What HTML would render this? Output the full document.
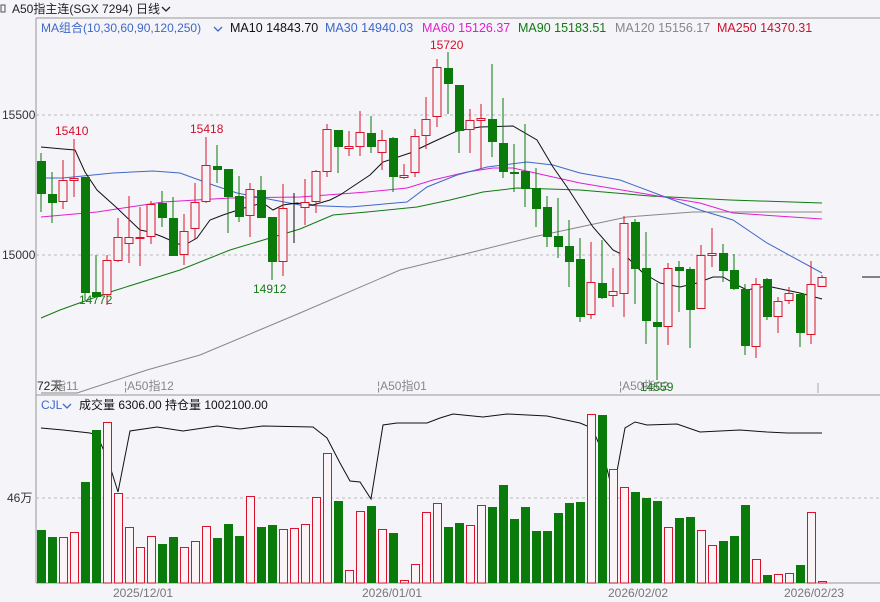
<!DOCTYPE html>
<html><head><meta charset="utf-8">
<style>
html,body{margin:0;padding:0;background:#f4f4f9;}
svg{display:block;font-family:"Liberation Sans","Noto Sans CJK SC",sans-serif;}
</style></head>
<body>
<svg id="c" width="880" height="602" viewBox="0 0 880 602" xmlns="http://www.w3.org/2000/svg">
<rect x="0" y="0" width="880" height="602" fill="#f4f4f9"/>
<!-- header -->
<rect x="1" y="5" width="4" height="7" fill="none" stroke="#555" stroke-width="1"/>
<text x="12" y="13" font-size="12" fill="#222">A50指主连(SGX 7294)</text>
<text x="136" y="13" font-size="12" fill="#222">日线</text>
<path d="M162 7 l4 4 l4 -4" fill="none" stroke="#222" stroke-width="1.3"/>
<line x1="36" y1="18" x2="880" y2="18" stroke="#999" stroke-width="1"/>
<line x1="36" y1="18" x2="36" y2="583" stroke="#999" stroke-width="1"/>
<text x="41" y="32" font-size="12" fill="#3f68c8">MA组合(10,30,60,90,120,250)</text>
<path d="M214 27 l4 4 l4 -4" fill="none" stroke="#3f68c8" stroke-width="1.3"/>
<text x="230" y="32" font-size="12.5" fill="#111">MA10 14843.70</text>
<text x="325" y="32" font-size="12.5" fill="#3f68c8">MA30 14940.03</text>
<text x="422" y="32" font-size="12.5" fill="#e020d0">MA60 15126.37</text>
<text x="518" y="32" font-size="12.5" fill="#107a10">MA90 15183.51</text>
<text x="615" y="32" font-size="12.5" fill="#888">MA120 15156.17</text>
<text x="717" y="32" font-size="12.5" fill="#d0102a">MA250 14370.31</text>
<!-- grid -->
<line x1="36" y1="115" x2="880" y2="115" stroke="#bbb" stroke-dasharray="3,3"/>
<line x1="36" y1="255" x2="880" y2="255" stroke="#bbb" stroke-dasharray="3,3"/>
<text x="2" y="119" font-size="12" fill="#333">15500</text>
<text x="2" y="259" font-size="12" fill="#333">15000</text>
<line x1="36" y1="498" x2="880" y2="498" stroke="#bbb" stroke-dasharray="3,3"/>
<text x="7" y="502" font-size="12" fill="#333">46万</text>
<line x1="36" y1="395" x2="880" y2="395" stroke="#999"/>
<line x1="36" y1="583" x2="880" y2="583" stroke="#999"/>
<g id="lines"></g>
<g id="candles"></g>
<g id="vol"></g>
<!-- labels -->
<text x="55" y="135" font-size="12" fill="#d0102a">15410</text>
<text x="190" y="133" font-size="12" fill="#d0102a">15418</text>
<text x="430" y="49" font-size="12" fill="#d0102a">15720</text>
<text x="253" y="293" font-size="12" fill="#1a7a1a">14912</text>
<text x="79" y="304" font-size="12" fill="#1a7a1a">14772</text>
<text x="37" y="390" font-size="12" fill="#222">72天</text>
<text x="54" y="390" font-size="12" fill="#888">指11</text>
<text x="124" y="390" font-size="12" fill="#888">¦A50指12</text>
<text x="377" y="390" font-size="12" fill="#888">¦A50指01</text>
<text x="619" y="390" font-size="12" fill="#888">¦A50指02</text>
<text x="640" y="391" font-size="12" fill="#1a7a1a">14559</text>
<line x1="818" y1="383" x2="818" y2="393" stroke="#aaa"/>
<line x1="862" y1="277" x2="880" y2="277" stroke="#111"/>
<text x="41" y="409" font-size="12" fill="#3f68c8">CJL</text>
<path d="M63 404 l4 4 l4 -4" fill="none" stroke="#3f68c8" stroke-width="1.3"/>
<text x="79" y="409" font-size="12" fill="#111">成交量 6306.00  持仓量 1002100.00</text>
<text x="113" y="597" font-size="12" fill="#777">2025/12/01</text>
<text x="362" y="597" font-size="12" fill="#777">2026/01/01</text>
<text x="608" y="597" font-size="12" fill="#777">2026/02/02</text>
<text x="784" y="597" font-size="12" fill="#777">2026/02/23</text>
</svg>
<script>
var NS="http://www.w3.org/2000/svg";
function el(p,t,a){var e=document.createElementNS(NS,t);for(var k in a)e.setAttribute(k,a[k]);p.appendChild(e);return e;}
var C=[[161,194,153,212,'g'],[194,203,172,223,'g'],[180,202,160,209,'r'],[178,181,139,197,'r'],[177,293,177,300,'g'],[292,297,255,296,'g'],[260,295,255,305,'r'],[237,261,218,262,'r'],[237,244,196,263,'r'],[237,238,207,266,'r'],[204,237,201,244,'r'],[203,218,191,227,'g'],[218,256,197,256,'g'],[231,255,214,265,'r'],[202,229,183,239,'r'],[165,202,137,203,'r'],[166,170,145,183,'g'],[169,197,169,233,'g'],[196,217,176,222,'g'],[189,216,183,237,'r'],[190,218,176,218,'g'],[217,262,217,280,'g'],[208,262,184,276,'r'],[203,204,193,243,'k'],[202,208,179,225,'r'],[171,202,170,213,'r'],[129,172,124,177,'r'],[130,147,130,173,'g'],[146,149,131,156,'r'],[132,147,111,156,'r'],[133,147,116,153,'g'],[140,153,130,170,'r'],[138,177,137,192,'g'],[175,178,164,179,'r'],[136,173,129,177,'r'],[119,136,97,149,'r'],[67,117,59,127,'r'],[68,84,52,114,'g'],[85,131,85,153,'g'],[120,130,109,153,'r'],[118,121,104,169,'r'],[119,142,64,157,'g'],[143,172,98,178,'g'],[172,174,144,192,'g'],[171,189,124,207,'g'],[188,209,168,227,'g'],[207,237,196,247,'g'],[236,247,198,258,'g'],[246,262,220,287,'g'],[259,317,238,322,'g'],[282,315,242,319,'r'],[283,298,240,299,'g'],[291,296,268,307,'r'],[223,294,216,317,'r'],[222,269,219,304,'g'],[268,321,232,344,'g'],[322,327,283,380,'g'],[268,327,263,345,'r'],[267,271,261,312,'g'],[269,310,267,348,'g'],[255,309,245,309,'r'],[253,256,228,267,'r'],[253,271,244,282,'g'],[270,289,254,290,'g'],[289,346,284,355,'g'],[284,347,278,358,'r'],[279,317,278,320,'g'],[301,317,297,333,'r'],[293,301,287,304,'r'],[294,333,293,347,'g'],[284,335,261,344,'r'],[277,287,275,287,'r']];
var V=[530,537,537,532,482,430,422,493,527,547,536,544,537,547,541,526,538,524,536,496,527,525,529,528,524,497,453,501,570,511,506,529,533,580,564,512,503,527,523,525,505,507,485,519,507,531,531,513,503,502,414,415,469,487,492,498,501,527,518,517,530,545,541,536,505,559,575,574,573,565,512,581];
var cg=document.getElementById('candles'),vg=document.getElementById('vol'),lg=document.getElementById('lines');
var RED='#d8142c',GRN='#0a7a0a';
C.forEach(function(c,i){var x=41+i*11.0;var col=c[4]=='g'?GRN:(c[4]=='k'?'#111':RED);
 el(cg,'line',{x1:x,y1:c[2],x2:x,y2:c[3],stroke:col,'stroke-width':1});
 var h=Math.max(c[1]-c[0],1);
 if(c[4]=='g')el(cg,'rect',{x:x-4,y:c[0],width:9,height:h,fill:GRN});
 else if(c[4]=='k')el(cg,'rect',{x:x-4,y:c[0],width:9,height:1,fill:'#111'});
 else el(cg,'rect',{x:x-4,y:c[0]+0.5,width:8,height:Math.max(h-1,1),fill:'#f4f4f9',stroke:RED,'stroke-width':1});
 var vt=V[i];var vh=583-vt;
 if(c[4]=='g')el(vg,'rect',{x:x-4,y:vt,width:9,height:vh,fill:GRN});
 else el(vg,'rect',{x:x-3.5,y:vt+0.5,width:8,height:vh-0.5,fill:'#fbf4f6',stroke:RED,'stroke-width':1});
});
function pl(pts,col,w){el(lg,'polyline',{points:pts,fill:'none',stroke:col,'stroke-width':w||1});}
pl("41,393 77,393 147,370 200,355 300,313 400,270 473,252 533,237 580,227 627,217 693,212 822,212","#888");
pl("41,318 60,310 107,293 180,270 230,250 300,229 333,215 367,212 417,207 450,200 483,192 517,188 580,190 650,196 730,200 822,203","#107a10");
pl("41,217 97,212 130,207 163,202 230,198 300,197 367,192 407,188 433,180 467,172 493,168 513,168 553,177 580,183 640,193 700,203 733,213 822,219","#e020d0");
pl("41,178 63,178 113,173 153,171 180,173 213,185 237,193 263,198 300,205 350,207 407,202 427,187 457,175 487,167 527,162 553,165 580,173 620,180 660,195 700,210 733,220 767,243 822,273","#3f68c8");
pl("41,147 63,149 75,150 85,172 97,190 117,208 140,230 150,232 163,237 183,246 197,238 210,220 223,215 247,207 263,203 273,210 283,205 297,203 313,205 330,200 340,195 370,175 383,162 410,153 433,142 457,131 480,127 513,126 537,140 553,167 567,187 580,207 593,227 613,250 627,257 643,273 660,283 680,287 697,283 713,277 723,277 737,285 747,290 767,286 800,293 822,299","#111");
pl("41,428 63,430 90,433 97,435 108,460 118,492 130,431 157,427 183,431 217,426 240,429 263,426 313,427 327,438 340,463 350,481 360,482 371,499 383,425 397,423 427,423 440,418 453,414 483,417 507,414 547,416 580,423 592,428 603,453 613,493 625,428 635,422 647,425 677,424 700,432 740,430 767,432 787,433 822,433","#111");
</script>
</body></html>
